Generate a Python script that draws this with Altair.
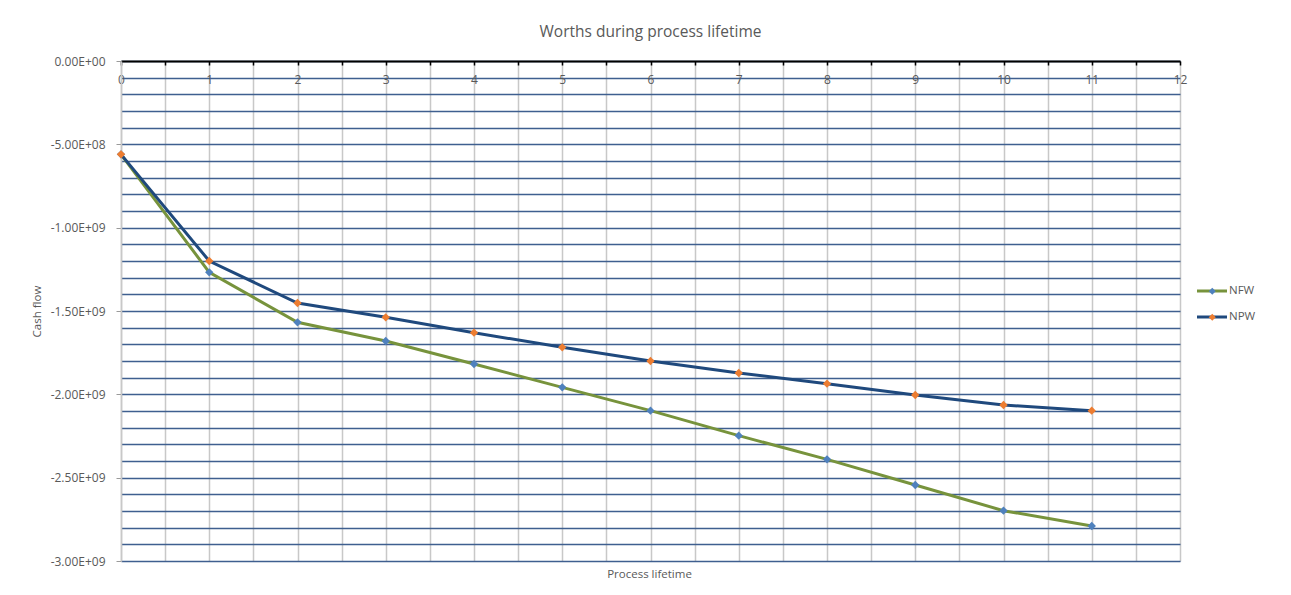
import altair as alt
import pandas as pd

# ---- data ----
years = [0, 1, 2, 3, 4, 5, 6, 7, 8, 9, 10, 11]
nfw = [-0.560e9, -1.268e9, -1.568e9, -1.680e9, -1.818e9, -1.958e9,
       -2.098e9, -2.248e9, -2.390e9, -2.544e9, -2.698e9, -2.790e9]
npw = [-0.560e9, -1.200e9, -1.452e9, -1.538e9, -1.630e9, -1.718e9,
       -1.800e9, -1.872e9, -1.936e9, -2.004e9, -2.064e9, -2.098e9]
series_names = ["NFW", "NPW"]
line_colors = ["#77933C", "#1F497D"]
marker_colors = ["#4F81BD", "#ED7D31"]

x_ticks = [i * 0.5 for i in range(25)]          # 0 .. 12 step 0.5
y_ticks = [-k * 100000000 for k in range(31)]   # 0 .. -3e9 step 1e8

rows = []
for name, vals in zip(series_names, [nfw, npw]):
    for yr, v in zip(years, vals):
        rows.append({"year": yr, "value": v, "series": name})
df = pd.DataFrame(rows)

FONT = "Open Sans"
TXT = "#595959"

x_enc = alt.X(
    "year:Q",
    scale=alt.Scale(domain=[0, 12], nice=False, zero=False),
    axis=alt.Axis(
        orient="bottom", offset=-500, values=x_ticks,
        labelExpr="datum.value % 1 === 0 ? format(datum.value, 'd') : ''",
        labelFlush=False,
        grid=True, gridColor="#c8c8c8", gridWidth=1.5,
        domainColor="black", domainWidth=2,
        tickColor="black", tickSize=4, tickWidth=1.5,
        labelPadding=9, labelFont=FONT, labelFontSize=12, labelColor=TXT,
        title="Process lifetime", titleFont=FONT, titleFontSize=11.5,
        titleFontWeight="normal", titleColor=TXT,
        titleX=528, titleY=513, titleAnchor="middle", titleAlign="center",
        titleBaseline="middle",
    ),
)

y_enc = alt.Y(
    "value:Q",
    scale=alt.Scale(domain=[-3e9, 0], nice=False),
    axis=alt.Axis(
        orient="left", values=y_ticks,
        labelExpr="abs(datum.value) % 500000000 === 0 ? replace(replace(format(datum.value, '.2e'), 'e+', 'E+0'), '\u2212', '-') : ''",
        grid=True, gridColor="#3F5F8F", gridWidth=1.3,
        domainColor="#c8c8c8", domainWidth=1.5,
        tickColor="#9a9a9a", tickSize=5,
        tickOpacity={"condition": {"test": "abs(datum.value) % 500000000 === 0", "value": 1}, "value": 0},
        labelPadding=11, labelFont=FONT, labelFontSize=12, labelColor=TXT,
        title="Cash flow", titleFont=FONT, titleFontSize=11.5,
        titleFontWeight="normal", titleColor=TXT,
        titleX=-84, titleY=250, titleAlign="center", titleBaseline="middle",
    ),
)

lines = alt.Chart(df).mark_line(strokeWidth=3).encode(
    x=x_enc,
    y=y_enc,
    stroke=alt.Stroke(
        "series:N",
        scale=alt.Scale(domain=series_names, range=line_colors),
        legend=alt.Legend(
            title=None, orient="none", legendX=1082, legendY=221,
            symbolType="M-2,0H2", symbolSize=225, symbolStrokeWidth=3,
            labelOffset=8, rowPadding=11, padding=0,
            labelFont=FONT, labelFontSize=11.5, labelColor=TXT,
        ),
    ),
)

points = alt.Chart(df).mark_point(
    shape="diamond", filled=True, size=70, opacity=1, strokeWidth=0
).encode(
    x=x_enc,
    y=y_enc,
    fill=alt.Fill(
        "series:N",
        scale=alt.Scale(domain=series_names, range=marker_colors),
        legend=alt.Legend(
            title=None, orient="none", legendX=1085.5, legendY=224.5,
            symbolType="diamond", symbolSize=50, symbolStrokeWidth=0,
            rowPadding=13, padding=0, labelExpr="''", zindex=2,
            labelFont=FONT, labelFontSize=11.5,
        ),
    ),
)

chart = alt.layer(lines, points).resolve_scale(
    stroke="independent", fill="independent"
).properties(
    width=1059,
    height=500,
    title=alt.TitleParams(
        "Worths during process lifetime", font=FONT, fontSize=15.5,
        fontWeight="normal", color=TXT, anchor="middle", offset=15,
    ),
    autosize=alt.AutoSizeParams(type="none"),
    padding={"left": 121, "top": 61, "right": 111, "bottom": 34},
).configure_view(stroke=None).configure(background="white")

chart.save("out.html", embed_options={"renderer": "svg", "actions": False})
